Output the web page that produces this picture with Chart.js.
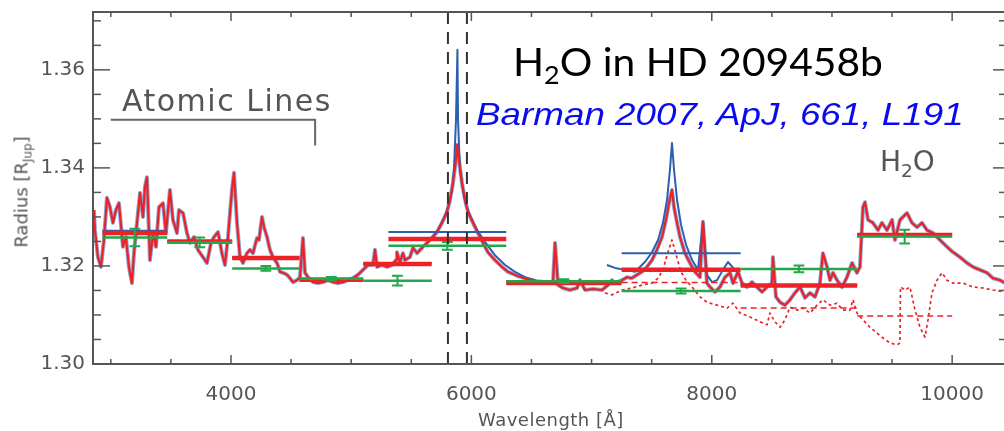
<!DOCTYPE html>
<html>
<head>
<meta charset="utf-8">
<title>H2O in HD 209458b</title>
<script src="https://cdn.jsdelivr.net/npm/chart.js@4.4.1/dist/chart.umd.min.js"></script>
<style>
  html, body { margin: 0; padding: 0; background: #fff; overflow: hidden; }
  #wrap { position: relative; width: 1012px; height: 431px; }
  #chart { position: absolute; left: 0; top: 0; }
  .note { position: absolute; white-space: nowrap; line-height: 1; transform-origin: 0 0; }
  .note sub { font-size: 0.66em; vertical-align: -0.3em; line-height: 0; }
  #title { left: 513px; top: 38px; font: 39px Lato, sans-serif; color: #000; transform: scaleX(1.045); }
  #ref { left: 476px; top: 96px; font: italic 32px "Liberation Sans", Arial, sans-serif; color: #0a0af0; transform: scaleX(1.15); }
  #atomic { left: 122px; top: 83px; font: 30px "DejaVu Sans", sans-serif; color: #555; letter-spacing: 1.5px; }
  #water { left: 880px; top: 145px; font: 28px "DejaVu Sans", sans-serif; color: #555; }
  #xlabel { left: 478px; top: 409px; font: 18px "DejaVu Sans", sans-serif; color: #555; letter-spacing: 0.5px; }
  #ylabel { left: 21px; top: 192px; font: 18px "DejaVu Sans", sans-serif; color: #555;
            transform: translate(-50%, -50%) rotate(-90deg); transform-origin: 50% 50%; }
</style>
</head>
<body>
<div id="wrap">
  <canvas id="chart" width="1012" height="431"></canvas>
  <div class="note" id="title">H<sub>2</sub>O in HD 209458b</div>
  <div class="note" id="ref">Barman 2007, ApJ, 661, L191</div>
  <div class="note" id="atomic">Atomic Lines</div>
  <div class="note" id="water">H<sub>2</sub>O</div>
  <div class="note" id="xlabel">Wavelength [Å]</div>
  <div class="note" id="ylabel">Radius [R<sub>Jup</sub>]</div>
</div>
<script>
// Model transmission spectrum with water (wavelength in Angstrom, radius in R_Jup)
const modelWave = [
  2860, 2868, 2893, 2918, 2943, 2968, 2993, 3018, 3043, 3068, 3101, 3126, 3151, 3176, 3193,
  3218, 3243, 3268, 3284, 3301, 3326, 3351, 3376, 3401, 3434, 3459, 3492, 3517, 3551, 3567,
  3601, 3634, 3659, 3692, 3725, 3767, 3800, 3834, 3859, 3892, 3925, 3950, 3975, 4008, 4025,
  4050, 4075, 4100, 4133, 4158, 4183, 4216, 4233, 4258, 4275, 4300, 4324, 4349, 4383, 4408,
  4433, 4466, 4491, 4516, 4549, 4574, 4599, 4616, 4641, 4682, 4724, 4765, 4807, 4849, 4890,
  4932, 4973, 5015, 5057, 5098, 5140, 5181, 5198, 5215, 5256, 5298, 5340, 5373, 5381, 5406,
  5431, 5448, 5489, 5514, 5548, 5589, 5631, 5672, 5714, 5756, 5797, 5822, 5847, 5872, 5880,
  5897, 5922, 5947, 5972, 6013, 6055, 6097, 6138, 6196, 6255, 6305, 6380, 6463, 6546, 6629,
  6679, 6696, 6721, 6762, 6820, 6879, 6904, 6945, 7012, 7087, 7137, 7170, 7195, 7253, 7295,
  7336, 7378, 7420, 7461, 7503, 7544, 7586, 7619, 7644, 7669, 7686, 7711, 7736, 7777, 7819,
  7860, 7902, 7927, 7960, 7985, 8027, 8068, 8110, 8152, 8177, 8218, 8252, 8293, 8335, 8376,
  8418, 8460, 8501, 8509, 8534, 8568, 8609, 8651, 8692, 8734, 8776, 8817, 8859, 8900, 8925,
  8959, 8984, 9009, 9042, 9084, 9125, 9167, 9208, 9233, 9258, 9275, 9300, 9341, 9383, 9416,
  9458, 9500, 9524, 9566, 9624, 9666, 9708, 9749, 9791, 9841, 9899, 9957, 10007, 10065, 10124,
  10173, 10232, 10290, 10340, 10398, 10440
];
const modelRadius = [
  1.3314, 1.3273, 1.3218, 1.3198, 1.3253, 1.3339, 1.3320, 1.3288, 1.3314, 1.3328, 1.3239, 1.3259, 1.3198, 1.3165, 1.3226,
  1.3288, 1.3349, 1.3300, 1.3361, 1.3381, 1.3212, 1.3267, 1.3239, 1.3320, 1.3328, 1.3267, 1.3355, 1.3294, 1.3267, 1.3314,
  1.3308, 1.3267, 1.3247, 1.3259, 1.3233, 1.3218, 1.3206, 1.3247, 1.3259, 1.3269, 1.3226, 1.3202, 1.3259, 1.3355, 1.3390,
  1.3288, 1.3218, 1.3206, 1.3226, 1.3233, 1.3226, 1.3257, 1.3253, 1.3300, 1.3279, 1.3259, 1.3233, 1.3218, 1.3206, 1.3188,
  1.3186, 1.3182, 1.3175, 1.3167, 1.3171, 1.3177, 1.3257, 1.3186, 1.3177, 1.3167, 1.3165, 1.3167, 1.3171, 1.3167, 1.3165,
  1.3167, 1.3171, 1.3175, 1.3182, 1.3192, 1.3202, 1.3202, 1.3233, 1.3198, 1.3202, 1.3198, 1.3202, 1.3212, 1.3228, 1.3208,
  1.3226, 1.3212, 1.3218, 1.3237, 1.3226, 1.3237, 1.3247, 1.3257, 1.3269, 1.3288, 1.3310, 1.3335, 1.3369, 1.3416, 1.3447,
  1.3416, 1.3369, 1.3335, 1.3310, 1.3288, 1.3267, 1.3247, 1.3228, 1.3212, 1.3198, 1.3188, 1.3180, 1.3173, 1.3169, 1.3167,
  1.3167, 1.3247, 1.3161, 1.3155, 1.3151, 1.3155, 1.3171, 1.3151, 1.3153, 1.3151, 1.3161, 1.3171, 1.3165, 1.3171, 1.3177,
  1.3175, 1.3182, 1.3188, 1.3198, 1.3212, 1.3233, 1.3259, 1.3294, 1.3328, 1.3355, 1.3320, 1.3288, 1.3259, 1.3226, 1.3206,
  1.3188, 1.3177, 1.3290, 1.3165, 1.3157, 1.3147, 1.3157, 1.3177, 1.3186, 1.3165, 1.3188, 1.3165, 1.3157, 1.3167, 1.3157,
  1.3147, 1.3157, 1.3165, 1.3218, 1.3137, 1.3126, 1.3120, 1.3131, 1.3145, 1.3157, 1.3135, 1.3145, 1.3137, 1.3165, 1.3226,
  1.3198, 1.3171, 1.3186, 1.3171, 1.3157, 1.3177, 1.3206, 1.3186, 1.3198, 1.3320, 1.3330, 1.3294, 1.3288, 1.3273, 1.3288,
  1.3273, 1.3294, 1.3253, 1.3294, 1.3308, 1.3288, 1.3279, 1.3288, 1.3273, 1.3267, 1.3253, 1.3239, 1.3228, 1.3218, 1.3206,
  1.3198, 1.3192, 1.3186, 1.3175, 1.3171, 1.3165
];

// Second model around the Na and K lines, where it departs from the first
const naWave = [5572, 5656, 5722, 5772, 5814, 5839, 5855, 5872, 5884, 5889, 5905, 5930, 5955, 5997, 6047, 6113, 6196, 6280, 6363, 6446, 6529];
const naRadius = [1.3233, 1.3253, 1.3273, 1.3298, 1.3324, 1.3355, 1.3396, 1.3498, 1.3641, 1.3498, 1.3396, 1.3355, 1.3324, 1.3298, 1.3273, 1.3249, 1.3222, 1.3202, 1.3188, 1.3177, 1.3171];
const kWave = [7128, 7195, 7278, 7361, 7444, 7503, 7553, 7594, 7628, 7652, 7669, 7686, 7711, 7744, 7786, 7836, 7885, 7927, 7960, 8002, 8044, 8093, 8135, 8193, 8235];
const kRadius = [1.3202, 1.3196, 1.3192, 1.3188, 1.3208, 1.3228, 1.3253, 1.3288, 1.3335, 1.3396, 1.3451, 1.3396, 1.3335, 1.3284, 1.3243, 1.3212, 1.3192, 1.3290, 1.3182, 1.3167, 1.3171, 1.3192, 1.3208, 1.3192, 1.3182];

// Model without water (dotted)
const dryWave = [
  7112, 7170, 7253, 7336, 7420, 7503, 7553, 7594, 7628, 7669, 7711, 7744, 7786, 7836, 7902,
  7960, 8044, 8127, 8177, 8235, 8318, 8401, 8460, 8484, 8526, 8568, 8609, 8651, 8709, 8759,
  8817, 8876, 8925, 8984, 9042, 9092, 9150, 9175, 9208, 9258, 9316, 9375, 9425, 9483, 9541,
  9566, 9570, 9608, 9649, 9691, 9732, 9774, 9799, 9832, 9874, 9916, 9957, 10007, 10090, 10173,
  10257, 10340, 10440
];
const dryRadius = [
  1.3145, 1.3141, 1.3151, 1.3155, 1.3161, 1.3165, 1.3175, 1.3192, 1.3222, 1.3253, 1.3216, 1.3188, 1.3171, 1.3157, 1.3137,
  1.3126, 1.3120, 1.3114, 1.3124, 1.3104, 1.3096, 1.3086, 1.3080, 1.3104, 1.3086, 1.3075, 1.3090, 1.3116, 1.3110, 1.3114,
  1.3104, 1.3120, 1.3131, 1.3120, 1.3124, 1.3110, 1.3110, 1.3131, 1.3104, 1.3090, 1.3075, 1.3063, 1.3053, 1.3043, 1.3039,
  1.3043, 1.3157, 1.3151, 1.3157, 1.3110, 1.3075, 1.3055, 1.3090, 1.3145, 1.3171, 1.3186, 1.3171, 1.3165, 1.3165, 1.3157,
  1.3155, 1.3151, 1.3147
];

// STIS bins and binned values
const binStart = [2930, 3470, 4010, 4570, 5100, 5310, 6290, 7250, 8240, 9210];
const binEnd   = [3470, 4010, 4570, 5100, 5670, 6290, 7250, 8240, 9210, 10000];
const observed = [1.3258, 1.3248, 1.3195, 1.3174, 1.3170, 1.3241, 1.3169, 1.3149, 1.3194, 1.3260];
const observedErr = [0.0018, 0.0010, 0.0005, 0.00035, 0.0010, 0.0008, 0.0004, 0.0005, 0.0007, 0.0014];
const binnedWater = [1.3267, 1.3250, 1.3216, 1.3172, 1.3204, 1.3255, 1.3165, 1.3192, 1.3160, 1.3263];
const binnedAlt   = [1.3272, 1.3251, 1.3217, 1.3173, 1.3205, 1.3269, 1.3166, 1.3226, 1.3161, 1.3265];
const binnedDry   = [null, null, null, null, null, null, null, 1.3166, 1.3114, 1.3098];

// Annotations in data units
const naBandEdges = [5805, 5963];
const atomicWave = [3000, 4700, 4700];
const atomicRadius = [1.3498, 1.3498, 1.3447];

const xTicks = [4000, 6000, 8000, 10000];
const yTicks = [1.30, 1.32, 1.34, 1.36];
const X_MIN = 2852, X_MAX = 10448, Y_MIN = 1.30, Y_MAX = 1.3718;

const RED = '#ec2227', BLUE = '#2c5faf', GREEN = '#23a74a', AXIS = '#555';
const CAP = 45; // half width of error-bar caps, in Angstrom

const pts = (xs, ys) => xs.map((x, i) => ({ x, y: ys[i] }));

function spans(values) {
  const out = [];
  binStart.forEach((s, i) => {
    if (values[i] == null) return;
    out.push({ x: s, y: values[i] }, { x: binEnd[i], y: values[i] }, { x: binEnd[i], y: null });
  });
  return out;
}

function errorBars() {
  const out = [];
  binStart.forEach((s, i) => {
    const c = (s + binEnd[i]) / 2;
    const lo = observed[i] - observedErr[i], hi = observed[i] + observedErr[i];
    out.push({ x: c - CAP, y: lo }, { x: c + CAP, y: lo }, { x: c, y: null },
             { x: c, y: lo }, { x: c, y: hi }, { x: c, y: null },
             { x: c - CAP, y: hi }, { x: c + CAP, y: hi }, { x: c, y: null });
  });
  return out;
}

function line(data, color, width, dash) {
  return { data, borderColor: color, borderWidth: width, borderDash: dash || [],
           pointRadius: 0, tension: 0, spanGaps: false, fill: false,
           borderJoinStyle: 'round', borderCapStyle: 'butt' };
}

const datasets = [
  line(pts(modelWave, modelRadius), 'rgba(44,95,175,0.55)', 4),
  line(pts(naWave, naRadius), BLUE, 2),
  line(pts(kWave, kRadius), BLUE, 2),
  line(pts(modelWave, modelRadius), RED, 2.2),
  line(pts(dryWave, dryRadius), RED, 1.7, [3, 3]),
  line(spans(binnedAlt), BLUE, 2),
  line(spans(binnedWater), RED, 4.5),
  line(spans(binnedDry), RED, 1.5, [6, 4]),
  line(spans(observed), GREEN, 2.5),
  line(errorBars(), GREEN, 2),
  ...naBandEdges.map(w => line([{ x: w, y: Y_MIN }, { x: w, y: Y_MAX }], '#333', 2, [12, 8])),
  line(pts(atomicWave, atomicRadius), '#666', 2)
];
// later entries are painted on top
datasets.forEach((d, i) => { d.order = datasets.length - i; });

// box frame with inward ticks on all four sides
const frameTicks = {
  id: 'frameTicks',
  afterDatasetsDraw(chart) {
    const { ctx, chartArea: a, scales: { x, y } } = chart;
    const seg = (x0, y0, x1, y1) => { ctx.beginPath(); ctx.moveTo(x0, y0); ctx.lineTo(x1, y1); ctx.stroke(); };
    ctx.save();
    ctx.strokeStyle = AXIS;
    ctx.lineWidth = 2;
    ctx.strokeRect(a.left, a.top, a.right - a.left, a.bottom - a.top);
    ctx.lineWidth = 1.5;
    for (let w = 3000; w <= 10000; w += 500) {
      const px = x.getPixelForValue(w);
      const len = w % 2000 === 0 ? 9 : 5;
      seg(px, a.bottom, px, a.bottom - len);
      seg(px, a.top, px, a.top + len);
    }
    for (let k = 0; k <= 14; k++) {
      const py = y.getPixelForValue(Y_MIN + k * 0.005);
      const major = k % 4 === 0;
      seg(a.left, py, a.left + (major ? 17 : 8), py);
      seg(a.right, py, a.right - (major ? 13 : 7), py);
    }
    ctx.restore();
  }
};

const tickFont = { family: 'DejaVu Sans', size: 20 };

new Chart(document.getElementById('chart'), {
  type: 'line',
  data: { datasets },
  options: {
    responsive: false,
    animation: false,
    devicePixelRatio: 1,
    layout: { padding: { left: 0, top: 12, right: 6, bottom: 0 } },
    plugins: { legend: { display: false }, tooltip: { enabled: false } },
    scales: {
      x: {
        type: 'linear', min: X_MIN, max: X_MAX,
        grid: { display: false, drawTicks: false },
        border: { display: false },
        ticks: { color: AXIS, font: tickFont, padding: 19, maxRotation: 0, callback: v => String(v) },
        afterBuildTicks: s => { s.ticks = xTicks.map(value => ({ value })); },
        afterFit: s => { s.height = 67; s.paddingLeft = 0; s.paddingRight = 0; }
      },
      y: {
        type: 'linear', min: Y_MIN, max: Y_MAX,
        grid: { display: false, drawTicks: false },
        border: { display: false },
        ticks: { color: AXIS, font: tickFont, padding: 8, callback: v => v.toFixed(2) },
        afterBuildTicks: s => { s.ticks = yTicks.map(value => ({ value })); },
        afterFit: s => { s.width = 93; s.paddingTop = 0; s.paddingBottom = 0; }
      }
    }
  },
  plugins: [frameTicks]
});
</script>
</body>
</html>
